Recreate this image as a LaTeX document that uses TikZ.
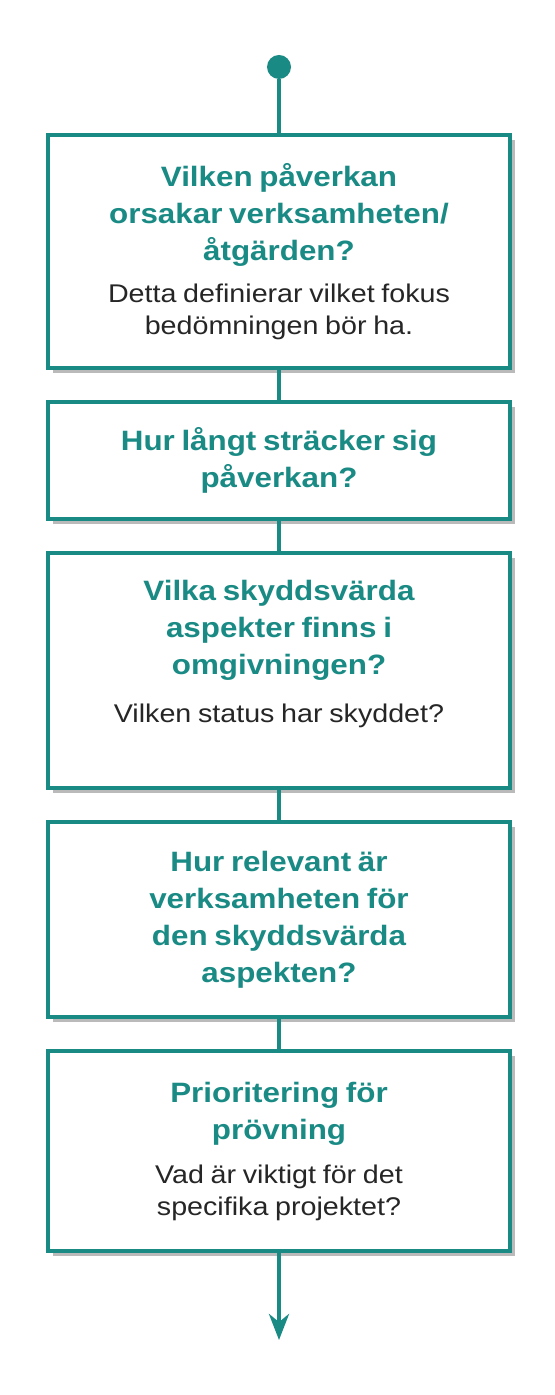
\documentclass[tikz,border=0pt]{standalone}
\usepackage{fontspec}
\setmainfont{Liberation Sans}[FakeStretch=1.12]
\usetikzlibrary{positioning,arrows.meta,shadows}

\definecolor{flowteal}{HTML}{1A8A84}
\definecolor{notegray}{HTML}{262626}
\newcommand{\qhead}{\fontsize{14}{18.5}\selectfont\bfseries\color{flowteal}}
\newcommand{\qnote}{\fontsize{12.8}{16}\selectfont\mdseries\color{notegray}}

\begin{document}
\begin{tikzpicture}[x=0.5pt, y=-0.5pt, node distance=17pt,
  qbox/.style={draw=flowteal, line width=2pt, fill=white, rectangle,
    minimum width=231pt, text width=215pt, align=center, outer sep=0pt,
    drop shadow={shadow xshift=2.5pt, shadow yshift=-2.5pt, fill=black!60, opacity=0.45}},
  conn/.style={draw=flowteal, line width=2pt}]
  \useasboundingbox (0,0) rectangle (555,1395);

  \node[circle, fill=flowteal, minimum size=12pt, inner sep=0pt] (start) at (279,67) {};
  \node[qbox, minimum height=116.5pt, anchor=north] (impact) at (279,135)
    {\qhead Vilken påverkan\\ orsakar verksamheten/\\ åtgärden?\\[5pt]
     \qnote Detta definierar vilket fokus\\ bedömningen bör ha.\par};
  \node[qbox, minimum height=58.5pt, below=of impact] (reach)
    {\qhead Hur långt sträcker sig\\ påverkan?\par};
  \node[qbox, minimum height=117.5pt, below=of reach] (aspects)
    {\qhead Vilka skyddsvärda\\ aspekter finns i\\ omgivningen?\\[8pt]
     \qnote Vilken status har skyddet?\\[3pt]\mbox{}\par};
  \node[qbox, minimum height=97.5pt, below=of aspects] (relevance)
    {\qhead Hur relevant är\\ verksamheten för\\ den skyddsvärda\\ aspekten?\par};
  \node[qbox, minimum height=100pt, below=of relevance] (priority)
    {\qhead Prioritering för\\ prövning\\[6pt]
     \qnote Vad är viktigt för det\\ specifika projektet?\par};
  \coordinate (finish) at (279,1340);

  \draw[conn] (start) -- (impact);
  \draw[conn] (impact) -- (reach);
  \draw[conn] (reach) -- (aspects);
  \draw[conn] (aspects) -- (relevance);
  \draw[conn] (relevance) -- (priority);
  \draw[conn, -{Stealth[length=13pt, width=10pt, inset=4pt]}] (priority) -- (finish);
\end{tikzpicture}
\end{document}
